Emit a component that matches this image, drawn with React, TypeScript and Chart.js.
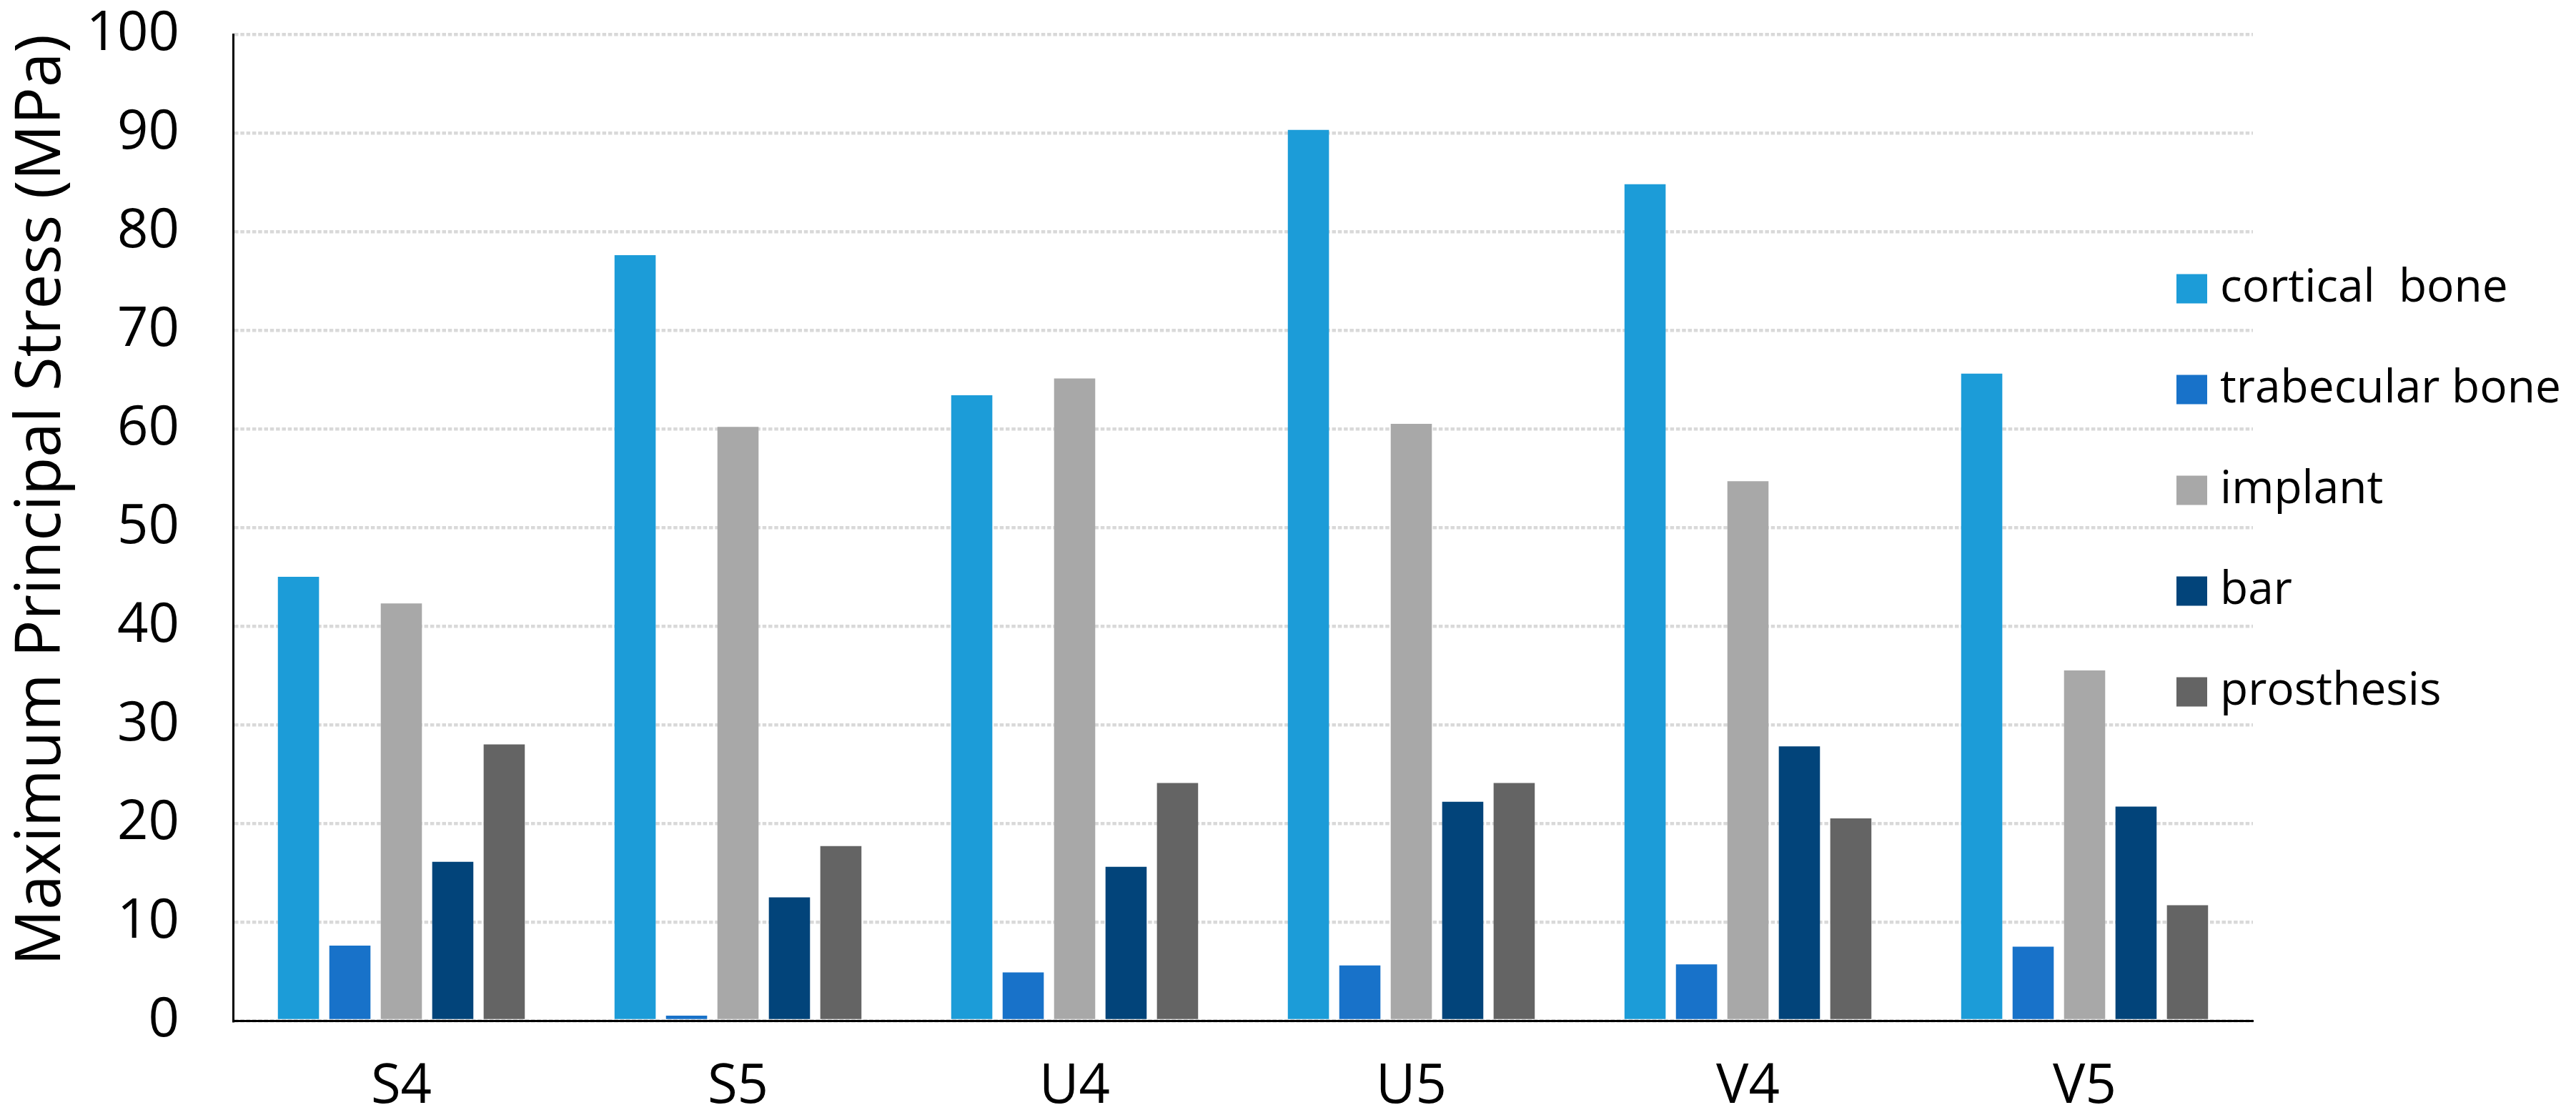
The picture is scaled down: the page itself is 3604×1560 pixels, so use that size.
import React, { useEffect, useRef } from "react";
import { Chart, registerables } from "chart.js";

Chart.register(...registerables);

const categories = ["S4", "S5", "U4", "U5", "V4", "V5"];
const seriesLabels = ["cortical  bone", "trabecular bone", "implant", "bar", "prosthesis"];
const corticalBone = [45.0, 77.6, 63.4, 90.3, 84.8, 65.6];
const trabecularBone = [7.6, 0.5, 4.9, 5.6, 5.7, 7.5];
const implant = [42.3, 60.2, 65.1, 60.5, 54.7, 35.5];
const barValues = [16.1, 12.5, 15.6, 22.2, 27.8, 21.7];
const prosthesis = [28.0, 17.7, 24.1, 24.1, 20.5, 11.7];
const seriesColors = ["#1C9CD8", "#1872C9", "#A8A8A8", "#02447A", "#646464"];
const yTitle = "Maximum Principal Stress (MPa)";
const yMin = 0;
const yMax = 100;
const yStep = 10;

const FONT = '"Open Sans", "Noto Sans", sans-serif';

const sideLegend = {
  id: "sideLegend",
  afterDraw(chart: any) {
    const { ctx, chartArea } = chart;
    const x0 = chartArea.right - 107;
    const y0 = chartArea.top + 356;
    const step = 141;
    ctx.save();
    ctx.font = `64px ${FONT}`;
    ctx.textBaseline = "middle";
    ctx.textAlign = "left";
    chart.data.datasets.forEach((ds: any, i: number) => {
      const cy = y0 + i * step;
      ctx.fillStyle = ds.backgroundColor;
      ctx.fillRect(x0, cy - 20.5, 43, 41);
      ctx.fillStyle = "#000000";
      ctx.fillText(ds.label, x0 + 61, cy);
    });
    ctx.restore();
  },
};

export default function App() {
  const canvasRef = useRef<HTMLCanvasElement | null>(null);

  useEffect(() => {
    document.body.style.margin = "0";
    document.body.style.overflow = "hidden";
    const canvas = canvasRef.current;
    if (!canvas) return;
    const seriesValues = [corticalBone, trabecularBone, implant, barValues, prosthesis];
    const chart = new Chart(canvas, {
      type: "bar",
      data: {
        labels: categories,
        datasets: seriesLabels.map((label, i) => ({
          label,
          data: seriesValues[i],
          backgroundColor: seriesColors[i],
          borderWidth: 0,
          categoryPercentage: 0.764,
          barPercentage: 0.8,
        })),
      },
      options: {
        animation: false,
        responsive: false,
        devicePixelRatio: 1,
        layout: { padding: { top: 48, right: 452, bottom: 0, left: 0 } },
        plugins: {
          legend: { display: false },
          tooltip: { enabled: false },
        },
        scales: {
          x: {
            type: "category",
            offset: true,
            grid: { display: false, drawTicks: false },
            border: { display: true, color: "#000000", width: 3 },
            ticks: {
              color: "#000000",
              font: { family: FONT, size: 76 },
              padding: 48,
              maxRotation: 0,
              autoSkip: false,
            },
            afterFit: (scale: any) => {
              scale.height = 132;
              scale.paddingLeft = 0;
              scale.paddingRight = 0;
            },
          },
          y: {
            type: "linear",
            min: yMin,
            max: yMax,
            grid: {
              color: "#D9D9D9",
              lineWidth: 4.5,
              drawTicks: false,
            },
            border: { display: true, color: "#000000", width: 3, dash: [5.5, 2.8] },
            ticks: {
              stepSize: yStep,
              color: "#000000",
              font: { family: FONT, size: 76 },
              padding: 75,
            },
            title: {
              display: true,
              text: yTitle,
              color: "#000000",
              align: "end",
              font: { family: FONT, size: 87 },
              padding: { top: 7, bottom: 0 },
            },
            afterFit: (scale: any) => {
              scale.width = 326;
              scale.paddingTop = 0;
              scale.paddingBottom = 0;
            },
          },
        },
      },
      plugins: [sideLegend],
    } as any);
    return () => chart.destroy();
  }, []);

  return (
    <div style={{ width: 3604, height: 1560, position: "relative" }}>
      <canvas ref={canvasRef} width={3604} height={1560} style={{ width: 3604, height: 1560, display: "block" }} />
    </div>
  );
}
